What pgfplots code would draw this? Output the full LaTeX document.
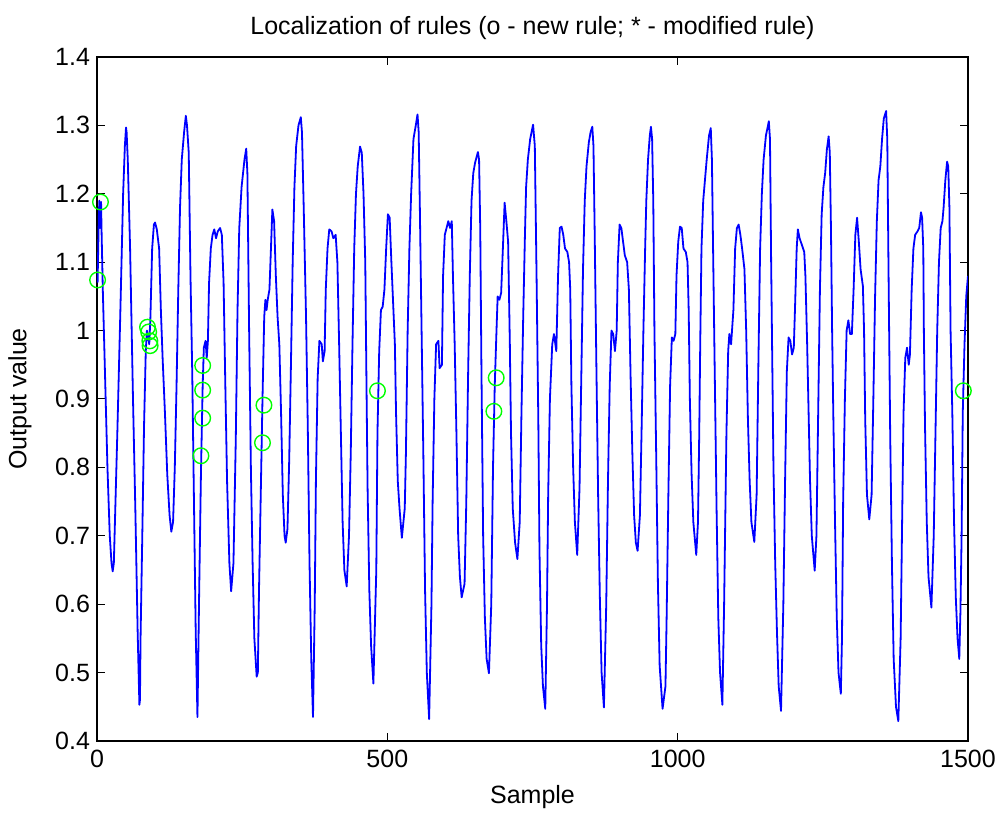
\documentclass[border=0pt]{standalone}
\usepackage{fontspec}
\setmainfont{Liberation Sans}
\usepackage{pgfplots}
\usepackage{pgfplotstable}
\pgfplotsset{compat=1.18}
\definecolor{mblue}{RGB}{0,0,255}
\definecolor{mgreen}{RGB}{0,255,0}
\pgfplotstableread{
x y
1 1.07
3 1.16
4 1.19
5 1.15
6 1.185
7 1.188
8 1.14
10 1.06
14 0.93
18 0.80
22 0.70
25 0.66
27 0.648
29 0.66
35 0.85
40 1.02
45 1.2
48 1.27
50 1.297
51 1.29
53 1.25
57 1.12
62 0.90
66 0.74
70 0.56
73 0.453
74 0.46
75 0.55
78 0.70
81 0.86
84 0.97
86 1.0
88 0.99
90 0.98
92 1.02
95 1.12
98 1.155
100 1.158
103 1.148
107 1.12
110 1.03
113 0.96
117 0.88
121 0.79
125 0.73
128 0.706
131 0.72
134 0.80
137 0.92
140 1.06
143 1.18
146 1.25
150 1.29
153 1.314
155 1.30
158 1.26
161 1.08
164 0.94
167 0.75
170 0.56
173 0.435
176 0.62
179 0.79
182 0.92
184 0.975
187 0.985
189 0.96
191 0.985
193 1.07
196 1.12
199 1.14
202 1.148
205 1.135
208 1.145
212 1.15
215 1.14
218 1.07
221 0.92
224 0.78
228 0.66
231 0.619
235 0.66
239 0.84
242 1.03
245 1.15
249 1.21
254 1.25
257 1.266
259 1.23
262 1.0
265 0.80
268 0.66
271 0.55
275 0.494
277 0.50
279 0.62
282 0.76
285 0.90
288 1.02
290 1.045
292 1.03
294 1.045
297 1.06
300 1.13
302 1.177
305 1.16
308 1.08
311 1.02
314 0.98
317 0.88
320 0.76
323 0.70
325 0.690
328 0.71
331 0.81
334 0.95
337 1.10
340 1.21
343 1.27
347 1.30
351 1.312
353 1.29
356 1.18
360 1.02
363 0.86
366 0.66
369 0.52
372 0.435
375 0.60
377 0.78
380 0.93
383 0.985
387 0.98
389 0.955
392 0.97
394 1.06
397 1.12
400 1.148
404 1.145
407 1.135
411 1.14
414 1.10
417 0.98
420 0.85
423 0.72
426 0.65
430 0.626
434 0.70
437 0.82
440 0.98
443 1.12
446 1.20
449 1.24
453 1.269
456 1.26
459 1.2
462 1.1
464 0.93
466 0.77
469 0.62
472 0.54
476 0.484
481 0.65
483 0.85
486 0.97
489 1.03
492 1.035
495 1.06
498 1.12
501 1.17
504 1.165
507 1.10
510 1.04
513 0.98
515 0.88
518 0.78
521 0.74
525 0.697
530 0.74
532 0.82
535 1.0
538 1.12
541 1.2
545 1.28
549 1.30
552 1.316
554 1.29
556 1.18
559 1.0
562 0.82
565 0.62
568 0.50
572 0.432
576 0.60
578 0.75
581 0.90
584 0.98
588 0.985
590 0.945
594 0.95
596 1.08
599 1.14
602 1.15
605 1.16
608 1.15
611 1.16
613 1.08
616 0.98
619 0.85
622 0.70
625 0.64
628 0.61
633 0.63
636 0.75
639 0.93
642 1.08
645 1.19
648 1.23
651 1.245
656 1.261
658 1.25
660 1.15
662 0.95
665 0.70
668 0.58
671 0.52
675 0.499
679 0.60
682 0.80
685 0.92
688 1.0
690 1.05
693 1.045
696 1.055
699 1.12
702 1.187
705 1.16
708 1.13
711 0.98
713 0.85
716 0.74
720 0.69
724 0.666
728 0.72
731 0.88
734 1.02
737 1.14
739 1.21
742 1.25
746 1.28
751 1.301
754 1.27
757 1.08
760 0.87
762 0.68
765 0.54
768 0.48
772 0.447
775 0.60
777 0.76
780 0.90
784 0.98
787 0.995
791 0.97
794 1.08
797 1.15
800 1.152
803 1.14
806 1.12
810 1.115
813 1.10
815 1.06
817 0.92
820 0.80
823 0.72
827 0.672
831 0.77
834 0.93
837 1.09
840 1.19
843 1.24
847 1.275
850 1.29
853 1.298
855 1.27
857 1.15
860 0.95
863 0.76
866 0.61
869 0.50
873 0.449
877 0.60
880 0.78
883 0.92
886 1.0
889 0.995
892 0.97
895 1.0
897 1.10
900 1.155
903 1.15
906 1.13
909 1.11
913 1.10
916 1.06
919 0.93
922 0.82
925 0.73
928 0.69
931 0.678
935 0.73
938 0.86
941 1.0
944 1.12
946 1.19
949 1.25
952 1.285
954 1.298
956 1.28
958 1.19
960 1.0
963 0.82
966 0.63
969 0.51
974 0.447
979 0.48
981 0.58
984 0.76
987 0.92
990 0.99
993 0.985
996 0.995
998 1.08
1001 1.13
1004 1.152
1007 1.15
1010 1.12
1014 1.115
1017 1.10
1019 1.03
1021 0.90
1024 0.79
1027 0.72
1032 0.672
1035 0.72
1037 0.84
1039 0.99
1041 1.12
1044 1.19
1047 1.22
1050 1.25
1054 1.285
1057 1.296
1059 1.25
1061 1.12
1064 0.93
1067 0.74
1070 0.58
1073 0.50
1077 0.453
1080 0.60
1084 0.85
1087 0.97
1089 0.995
1092 0.98
1096 1.03
1099 1.12
1102 1.15
1105 1.155
1108 1.14
1111 1.12
1115 1.09
1118 1.0
1121 0.87
1124 0.78
1127 0.72
1132 0.691
1136 0.76
1139 0.95
1142 1.12
1145 1.20
1148 1.25
1152 1.285
1157 1.306
1159 1.28
1161 1.1
1163 0.95
1165 0.80
1168 0.66
1171 0.56
1174 0.48
1178 0.444
1182 0.60
1185 0.78
1188 0.94
1191 0.99
1194 0.985
1197 0.965
1200 0.975
1202 1.03
1205 1.12
1207 1.148
1210 1.135
1214 1.125
1218 1.115
1220 1.08
1223 0.98
1225 0.90
1228 0.78
1231 0.70
1236 0.649
1239 0.70
1242 0.88
1245 1.06
1248 1.17
1251 1.21
1254 1.23
1257 1.265
1260 1.284
1262 1.26
1264 1.15
1266 1.0
1268 0.88
1271 0.72
1274 0.58
1277 0.50
1281 0.469
1283 0.55
1285 0.75
1288 0.90
1291 1.0
1294 1.015
1297 0.995
1300 0.995
1303 1.06
1306 1.14
1309 1.165
1312 1.13
1315 1.09
1319 1.065
1321 1.0
1323 0.87
1326 0.76
1330 0.724
1334 0.76
1337 0.90
1340 1.05
1343 1.16
1346 1.22
1349 1.24
1352 1.28
1355 1.31
1359 1.321
1361 1.28
1363 1.1
1366 0.85
1369 0.66
1372 0.52
1376 0.45
1380 0.429
1384 0.55
1387 0.75
1389 0.88
1392 0.96
1395 0.975
1398 0.95
1400 0.965
1403 1.06
1406 1.12
1409 1.14
1413 1.145
1416 1.15
1419 1.173
1421 1.165
1423 1.12
1424 1.0
1426 0.86
1429 0.72
1432 0.64
1437 0.595
1441 0.70
1444 0.85
1447 1.0
1450 1.10
1453 1.15
1456 1.16
1458 1.18
1461 1.22
1464 1.247
1466 1.24
1468 1.18
1470 1.0
1473 0.88
1476 0.72
1479 0.61
1482 0.55
1485 0.52
1487 0.59
1489 0.70
1491 0.88
1494 0.98
1497 1.05
1500 1.08
}\outdata
\pgfplotstableread{
x y
1 1.074
6 1.188
87 1.005
89 0.998
91 0.985
91.5 0.978
182 0.949
182 0.913
182 0.872
179 0.817
287.5 0.891
285 0.836
483 0.912
687.5 0.931
683.5 0.882
1492 0.912
}\ruledata
\begin{document}
\begin{tikzpicture}
\begin{axis}[
  scale only axis,
  width=435.5pt, height=342pt,
  xmin=0, xmax=1500, ymin=0.4, ymax=1.4,
  xtick={0,500,1000,1500},
  xticklabels={0,500,1000,1500},
  ytick={0.4,0.5,0.6,0.7,0.8,0.9,1,1.1,1.2,1.3,1.4},
  yticklabels={0.4,0.5,0.6,0.7,0.8,0.9,1,1.1,1.2,1.3,1.4},
  tick align=inside,
  major tick length=4pt,
  every tick/.style={black, line width=0.5pt},
  axis line style={black, line width=0.6pt},
  /pgf/number format/assume math mode=true,
  tick label style={font=\fontsize{12.5}{15}\selectfont},
  label style={font=\fontsize{12.5}{15}\selectfont},
  every axis title shift=0pt,
  title={Localization of rules (o - new rule; * - modified rule)},
  xlabel={Sample},
  ylabel={Output value},
  xlabel style={at={(axis description cs:0.5,-0.0819)}, anchor=center},
  ylabel style={at={(axis description cs:-0.0884,0.5)}, anchor=center, rotate=0},
  title style={font=\fontsize{12.5}{15}\selectfont, at={(axis description cs:0.5,1.0424)}, anchor=center, yshift=0pt},
  xticklabel style={yshift=-1pt},
]
\addplot[mblue, line width=0.9pt, line join=round] table[x=x,y=y] {\outdata};
\addplot[only marks, mark=o, mark size=3.9pt, mgreen, mark options={line width=0.7pt}] table[x=x,y=y] {\ruledata};
\end{axis}
\pgfresetboundingbox
\path (-48.5pt,-36pt) rectangle (450.5pt,370.5pt);
\end{tikzpicture}
\end{document}
